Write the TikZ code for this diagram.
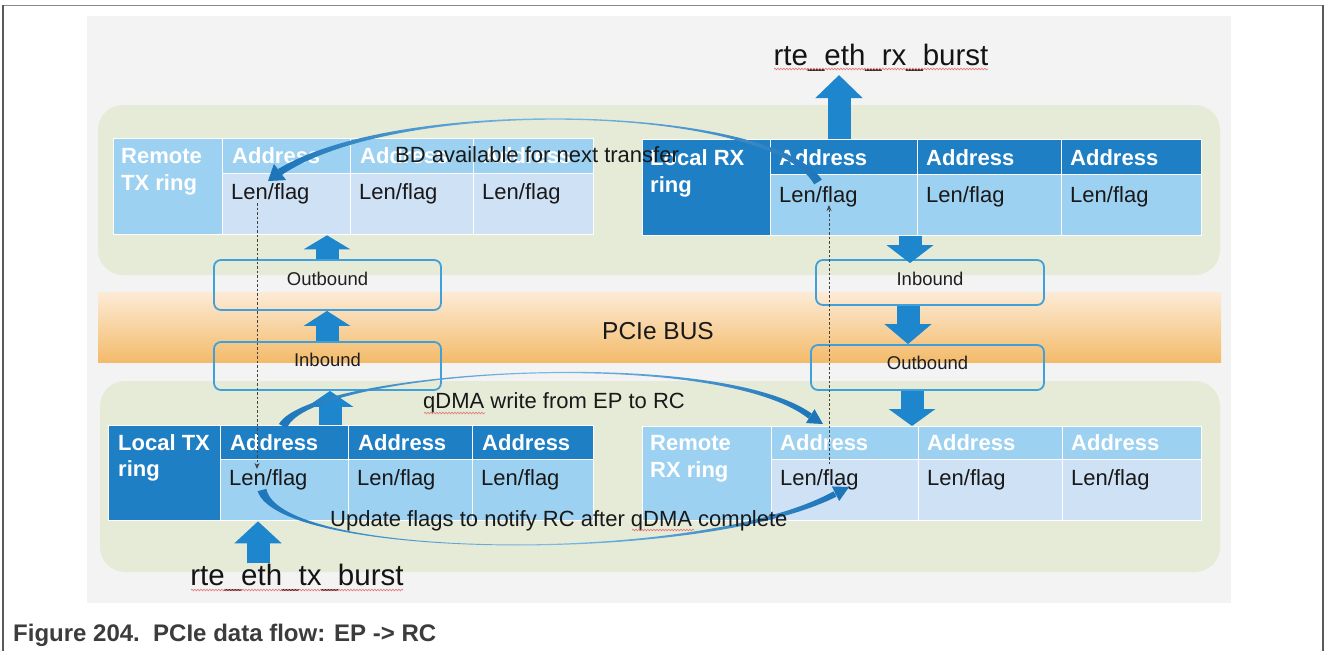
\documentclass[tikz,border=0pt]{standalone}
\usepackage{fontspec}
\setmainfont{Liberation Sans}
\usetikzlibrary{arrows.meta,calc,decorations.pathmorphing}
\definecolor{bgGray}{HTML}{F3F3F3}
\definecolor{panelG}{HTML}{E6EBD8}
\definecolor{busTop}{HTML}{FDEBD7}
\definecolor{busBot}{HTML}{F3BB6A}
\definecolor{darkB}{HTML}{1F7FC4}
\definecolor{lightB}{HTML}{9DD1F1}
\definecolor{paleB}{HTML}{CFE1F4}
\definecolor{boxLine}{HTML}{3FA0DA}
\definecolor{arrB}{HTML}{1E86CC}
\definecolor{curveB}{HTML}{1D75BA}
\definecolor{curveL}{HTML}{7DBBE5}
\definecolor{capGray}{HTML}{3C3C3C}
\definecolor{frameGray}{HTML}{5A5A5A}
\definecolor{squig}{HTML}{E57C7C}
\newcommand\fsz[1]{\fontsize{#1}{#1}\selectfont}
\begin{document}
\begin{tikzpicture}[x=1pt,y=-1pt,
  cellbox/.style={draw=white,line width=1.3pt,inner sep=0pt,anchor=north west},
  celltxt/.style={anchor=base west,inner sep=0pt,text=white,font=\fsz{22}\bfseries},
  lentxt/.style={anchor=base west,inner sep=0pt,text=black!90,font=\fsz{22}},
  plaintxt/.style={anchor=base west,inner sep=0pt,text=black!90,font=\fsz{22}},
  iobox/.style={draw=boxLine,line width=1.8pt,rounded corners=7pt,inner sep=0pt},
  iotxt/.style={inner sep=0pt,font=\fsz{18.5},text=black!88},
  burst/.style={anchor=base,inner sep=0pt,font=\fsz{29.5},text=black!92},
  blockarr/.style={draw=arrB,line width=23pt,-{Triangle[width=46pt,length=#1]}},
  blockarr/.default=18pt,
  dotarr/.style={draw=black!75,line width=0.9pt,dash pattern=on 2.5pt off 2pt,-{Stealth[length=6pt,width=5pt]}},
  curvehead/.style={draw=curveB,line width=1pt,-{Triangle[width=#1,length=15pt]}},
  curveband/.style={left color=curveB,right color=curveB,middle color=curveL},
  squiggle/.style={draw=squig,line width=0.7pt,decorate,decoration={snake,amplitude=0.8pt,segment length=3pt}}
]
\useasboundingbox (0,0) rectangle (1325,651);
\fill[white] (0,0) rectangle (1325,651);
% frame
\draw[frameGray!70,line width=1.5pt] (2,5.5) -- (1323.5,5.5);
\draw[frameGray,line width=2pt] (2.5,5) -- (2.5,651);
\draw[frameGray,line width=2pt] (1323,5) -- (1323,651);
% background
\fill[bgGray] (87,16) rectangle (1231,603);
\fill[panelG,rounded corners=25pt] (98,105) rectangle (1220,275);
\fill[panelG,rounded corners=25pt] (100,381) rectangle (1220,572);
\shade[top color=busTop,bottom color=busBot] (98,292) rectangle (1221,362);
\node[inner sep=0pt,font=\fsz{24.5},text=black!90] (bus) at (658,331) {PCIe BUS};

% ---- Remote TX ring (top left)
\node[cellbox,fill=lightB,minimum width=109,minimum height=96] (rtx-h) at (113,138) {};
\node[celltxt] at (121,163) {Remote};
\node[celltxt] at (121,190) {TX ring};
\foreach \i/\xa/\xb in {1/222/350,2/350/473,3/473/593}{
  \node[cellbox,fill=lightB,minimum width=\xb-\xa,minimum height=35] (rtx-a\i) at (\xa,138) {};
  \node[cellbox,fill=paleB,minimum width=\xb-\xa,minimum height=61] (rtx-l\i) at (\xa,173) {};
  \node[celltxt] at ($(rtx-a\i.north west)+(10,25)$) {Address};
  \node[lentxt] at ($(rtx-l\i.north west)+(9,26)$) {Len/flag};
}
% ---- Local RX ring (top right)
\node[cellbox,fill=darkB,minimum width=128,minimum height=96] (lrx-h) at (642,139) {};
\node[celltxt] at (650,165) {Local RX};
\node[celltxt] at (650,192) {ring};
\foreach \i/\xa/\xb in {1/770/917,2/917/1061,3/1061/1201}{
  \node[cellbox,fill=darkB,minimum width=\xb-\xa,minimum height=35] (lrx-a\i) at (\xa,139) {};
  \node[cellbox,fill=lightB,minimum width=\xb-\xa,minimum height=61] (lrx-l\i) at (\xa,174) {};
  \node[celltxt] at ($(lrx-a\i.north west)+(9,26)$) {Address};
  \node[lentxt] at ($(lrx-l\i.north west)+(9,28)$) {Len/flag};
}
% ---- Local TX ring (bottom left)
\node[cellbox,fill=darkB,minimum width=112,minimum height=95] (ltx-h) at (108,425) {};
\node[celltxt] at (118,450) {Local TX};
\node[celltxt] at (118,476) {ring};
\foreach \i/\xa/\xb in {1/220/348,2/348/472,3/472/593}{
  \node[cellbox,fill=darkB,minimum width=\xb-\xa,minimum height=34] (ltx-a\i) at (\xa,425) {};
  \node[cellbox,fill=lightB,minimum width=\xb-\xa,minimum height=61] (ltx-l\i) at (\xa,459) {};
  \node[celltxt] at ($(ltx-a\i.north west)+(10,25)$) {Address};
  \node[lentxt] at ($(ltx-l\i.north west)+(9,26)$) {Len/flag};
}
% ---- Remote RX ring (bottom right)
\node[cellbox,fill=lightB,minimum width=129,minimum height=94] (rrx-h) at (642,426) {};
\node[celltxt] at (650,450) {Remote};
\node[celltxt] at (650,477) {RX ring};
\foreach \i/\xa/\xb in {1/771/918,2/918/1062,3/1062/1201}{
  \node[cellbox,fill=lightB,minimum width=\xb-\xa,minimum height=33] (rrx-a\i) at (\xa,426) {};
  \node[cellbox,fill=paleB,minimum width=\xb-\xa,minimum height=61] (rrx-l\i) at (\xa,459) {};
  \node[celltxt] at ($(rrx-a\i.north west)+(9,24)$) {Address};
  \node[lentxt] at ($(rrx-l\i.north west)+(9,26)$) {Len/flag};
}

% ---- Outbound / Inbound boxes
\node[iobox,minimum width=227,minimum height=50] (obL) at (327.5,285) {};
\node[iotxt] at ($(obL.center)+(0,-6)$) {Outbound};
\node[iobox,minimum width=227,minimum height=48] (ibL) at (327.5,366) {};
\node[iotxt] at ($(ibL.center)+(0,-6)$) {Inbound};
\node[iobox,minimum width=228,minimum height=45] (ibR) at (930,282.5) {};
\node[iotxt] at ($(ibR.center)+(0,-4)$) {Inbound};
\node[iobox,minimum width=233,minimum height=45] (obR) at (927.5,367.5) {};
\node[iotxt] at ($(obR.center)+(0,-5)$) {Outbound};

% ---- burst labels
\node[burst] (rxb) at (881,65) {rte\_eth\_rx\_burst};
\node[burst] (txb) at (297,585) {rte\_eth\_tx\_burst};
\draw[squiggle] (774,69) -- (988,69);
\draw[squiggle] (191,590) -- (403,590);

% ---- block arrows
\coordinate (axL) at (327,0);
\coordinate (axL2) at (330,0);
\coordinate (axTx) at (258,0);
\coordinate (axRx) at (839,0);
\coordinate (axR1) at (910,0);
\coordinate (axR2) at (908,0);
\coordinate (axR3) at (912,0);
\draw[blockarr=14pt] (obL.north -| axL) -- (rtx-l1.south -| axL);
\draw[blockarr=15pt] (ibL.north -| axL) -- (obL.south -| axL);
\draw[blockarr=16pt] (ltx-a1.north -| axL2) -- (ibL.south -| axL2);
\draw[blockarr=22pt] (txb.north -| axTx) -- (ltx-l1.south -| axTx);
\draw[blockarr=23pt,shorten >=4pt] (lrx-a1.north -| axRx) -- (rxb.south -| axRx);
\draw[blockarr=18pt,shorten >=-4pt] (lrx-l1.south -| axR1) -- (ibR.north -| axR1);
\draw[blockarr=20pt] (ibR.south -| axR2) -- (obR.north -| axR2);
\draw[blockarr=17pt] (obR.south -| axR3) -- (rrx-a1.north -| axR3);

% ---- dotted arrows
\coordinate (dLs) at (257,203);
\coordinate (dLe) at (257,469);
\coordinate (dRs) at (829,464);
\coordinate (dRe) at (829,205);
\draw[dotarr] (dLs) -- (dLe);
\draw[dotarr] (dRs) -- (dRe);

% ---- curved arrows (tapered bands + heads)
% BD available
\coordinate (bdT) at (818,182);
\coordinate (bdC1) at (770,105);
\coordinate (bdC2) at (400,95);
\coordinate (bdB) at (280,172);
\coordinate (bdE) at (268,181);
\shade[curveband] ($(bdT)+(-3.82,2.38)$) .. controls (bdC1) and (bdC2) .. ($(bdB)+(1.89,2.94)$)
  -- ($(bdB)-(1.89,2.94)$) .. controls (bdC2) and (bdC1) .. ($(bdT)-(-3.82,2.38)$) -- cycle;
\draw[curvehead=20pt] (bdB) -- (bdE);
% qDMA write
\coordinate (qdT) at (283,426);
\coordinate (qdC1) at (310,370);
\coordinate (qdC2) at (715,345);
\coordinate (qdB) at (810,416);
\coordinate (qdE) at (823,424);
\shade[curveband] ($(qdT)+(-4.02,-2.01)$) .. controls (qdC1) and (qdC2) .. ($(qdB)+(1.54,-2.57)$)
  -- ($(qdB)-(1.54,-2.57)$) .. controls (qdC2) and (qdC1) .. ($(qdT)-(-4.02,-2.01)$) -- cycle;
\draw[curvehead=16pt] (qdB) -- (qdE);
% Update flags
\coordinate (upT) at (262,490);
\coordinate (upC1) at (280,560);
\coordinate (upC2) at (700,565);
\coordinate (upB) at (835,494);
\coordinate (upE) at (849,487);
\shade[curveband] ($(upT)+(4.36,-1.12)$) .. controls (upC1) and (upC2) .. ($(upB)+(-1.41,-2.65)$)
  -- ($(upB)-(-1.41,-2.65)$) .. controls (upC2) and (upC1) .. ($(upT)-(4.36,-1.12)$) -- cycle;
\draw[curvehead=16pt] (upB) -- (upE);

% ---- curve labels
\node[plaintxt] (bdtxt) at (395,162) {BD available for next transfer};
\node[plaintxt] (qdtxt) at (423,408) {qDMA write from EP to RC};
\node[plaintxt] (uptxt) at (330,526) {Update flags to notify RC after qDMA complete};
\draw[squiggle] (424,413) -- (485,413);
\draw[squiggle] (632,530) -- (694,530);

% ---- caption
\node[anchor=base west,inner sep=0pt,font=\fsz{24}\bfseries,text=capGray] (cap) at (13,641) {Figure 204.\ \ PCIe data flow: EP -> RC};
\end{tikzpicture}
\end{document}
